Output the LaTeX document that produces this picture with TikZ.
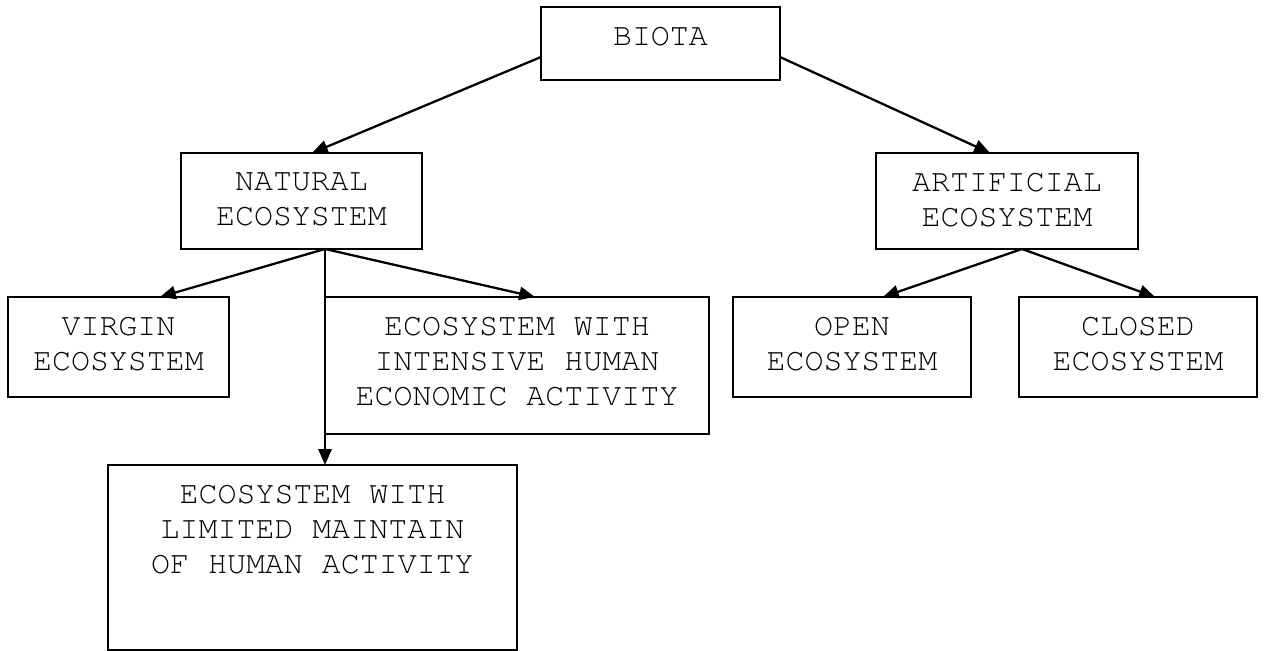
\documentclass[tikz,border=0pt]{standalone}
\usepackage[T1]{fontenc}
\usepackage{tikz}
\usetikzlibrary{arrows.meta}
\usetikzlibrary{positioning}

\newcommand{\boxfont}{\fontfamily{pcr}\fontsize{18}{19.9}\selectfont}
\newcommand{\boxlines}[3]{\parbox[c][#2][t]{#1}{\centering\vspace*{0.4cm}#3}}

\begin{document}
\begin{tikzpicture}[
  x=0.02cm, y=-0.02cm,
  every node/.style={draw, line width=1.3pt, inner sep=0pt, outer sep=0pt, anchor=north west, font=\boxfont},
  every path/.style={line width=1.3pt},
]
\tikzset{>={Triangle[length=9pt, width=7.5pt]}}
\useasboundingbox (0,0) rectangle (1267,651);

\node (biota)      at (541,7)   {\boxlines{4.78cm}{1.46cm}{BIOTA}};
\node (natural)    at (181,153) {\boxlines{4.82cm}{1.92cm}{NATURAL\\ECOSYSTEM}};
\node (artificial) at (876,153) {\boxlines{5.24cm}{1.92cm}{ARTIFICIAL\\ECOSYSTEM}};
\node (virgin)     at (8,297)   {\boxlines{4.42cm}{2.00cm}{VIRGIN\\ECOSYSTEM}};
\node (intensive)  at (325,297) {\boxlines{7.68cm}{2.74cm}{ECOSYSTEM WITH\\INTENSIVE HUMAN\\ECONOMIC ACTIVITY}};
\node (open)       at (733,297) {\boxlines{4.76cm}{2.00cm}{OPEN\\ECOSYSTEM}};
\node (closed)     at (1019,297) {\boxlines{4.76cm}{2.00cm}{CLOSED\\ECOSYSTEM}};
\node (limited)    at (108,465) {\boxlines{8.18cm}{3.70cm}{ECOSYSTEM WITH\\LIMITED MAINTAIN\\OF HUMAN ACTIVITY}};

\draw[->] (biota.west |- 0,57) -- (natural.north -| 312,0);
\draw[->] (biota.east |- 0,57) -- (artificial.north -| 990,0);
\draw[->] (natural.south -| 325,0) -- (virgin.north -| 160,0);
\draw[->] (natural.south -| 325,0) -- (intensive.north -| 535,0);
\draw[->] (natural.south -| 325,0) -- (limited.north -| 325,0);
\draw[->] (artificial.south -| 1022,0) -- (open.north -| 883,0);
\draw[->] (artificial.south -| 1022,0) -- (closed.north -| 1155,0);
\end{tikzpicture}
\end{document}
